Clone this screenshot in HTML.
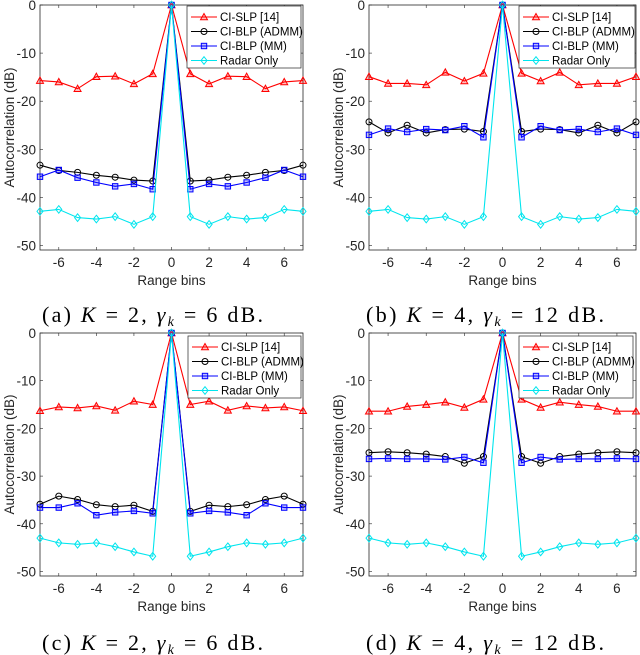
<!DOCTYPE html>
<html><head><meta charset="utf-8">
<style>
html,body{margin:0;padding:0;background:#fff;}
body{width:640px;height:655px;overflow:hidden;position:relative;}
svg{position:absolute;left:0;top:0;}
.tk{font-family:"Liberation Sans",sans-serif;font-size:13.5px;fill:#262626;}
.lg{font-family:"Liberation Sans",sans-serif;font-size:11.5px;fill:#000;}
.cap{font-family:"Liberation Serif",serif;font-size:22px;fill:#000;}
</style></head>
<body>
<svg id="chart" width="640" height="655" viewBox="0 0 640 655">
<text class="cap" x="42" y="322" textLength="221" lengthAdjust="spacing">(a) <tspan font-style="italic">K</tspan> = 2, <tspan font-style="italic">γ</tspan><tspan font-style="italic" font-size="14" dy="4">k</tspan><tspan dy="-4"> = 6 dB.</tspan></text>
<text class="cap" x="366" y="322" textLength="238" lengthAdjust="spacing">(b) <tspan font-style="italic">K</tspan> = 4, <tspan font-style="italic">γ</tspan><tspan font-style="italic" font-size="14" dy="4">k</tspan><tspan dy="-4"> = 12 dB.</tspan></text>
<text class="cap" x="42" y="650" textLength="221" lengthAdjust="spacing">(c) <tspan font-style="italic">K</tspan> = 2, <tspan font-style="italic">γ</tspan><tspan font-style="italic" font-size="14" dy="4">k</tspan><tspan dy="-4"> = 6 dB.</tspan></text>
<text class="cap" x="366" y="650" textLength="238" lengthAdjust="spacing">(d) <tspan font-style="italic">K</tspan> = 4, <tspan font-style="italic">γ</tspan><tspan font-style="italic" font-size="14" dy="4">k</tspan><tspan dy="-4"> = 12 dB.</tspan></text>
</svg>
<script>
const lags = [-7,-6,-5,-4,-3,-2,-1,0,1,2,3,4,5,6,7];
const xTicks = [-6,-4,-2,0,2,4,6];
const yTicks = [0,-10,-20,-30,-40,-50];
const seriesNames = ["CI-SLP [14]","CI-BLP (ADMM)","CI-BLP (MM)","Radar Only"];
function sym(h){return h.concat([0]).concat(h.slice().reverse());}
const redA = sym([-15.7,-16,-17.4,-14.9,-14.8,-16.4,-14.3]);
const blackA = sym([-33.3,-34.4,-34.8,-35.4,-35.8,-36.4,-36.6]);
const blueA = sym([-35.7,-34.3,-35.9,-36.9,-37.7,-37.2,-38.3]);
const cyanA = sym([-42.9,-42.5,-44.2,-44.5,-44,-45.6,-44]);
const redB = sym([-14.9,-16.3,-16.3,-16.6,-14,-15.8,-14.2]);
const blackB = sym([-24.3,-26.6,-25,-26.6,-25.9,-25.8,-26.3]);
const blueB = sym([-27,-25.7,-26.4,-25.8,-26,-25.2,-27.5]);
const cyanB = sym([-42.9,-42.5,-44.2,-44.5,-44,-45.6,-44]);
const redC = sym([-16.3,-15.5,-15.7,-15.3,-16.2,-14.3,-15.0]);
const blackC = sym([-35.9,-34.2,-34.9,-36,-36.4,-36.1,-37.4]);
const blueC = sym([-36.6,-36.6,-35.7,-38.2,-37.6,-37.3,-37.8]);
const cyanC = sym([-43,-44,-44.3,-44,-44.8,-45.9,-46.8]);
const redD = sym([-16.4,-16.4,-15.4,-15,-14.5,-15.6,-13.9]);
const blackD = sym([-25.1,-24.9,-25.1,-25.4,-25.9,-27.3,-25.9]);
const blueD = sym([-26.4,-26.3,-26.4,-26.4,-26.5,-26,-27.2]);
const cyanD = sym([-43,-44,-44.3,-44,-44.8,-45.9,-46.8]);

const NS="http://www.w3.org/2000/svg";
const svg=document.getElementById('chart');
function mk(tag,attrs,parent){const e=document.createElementNS(NS,tag);for(const k in attrs)e.setAttribute(k,attrs[k]);(parent||svg).appendChild(e);return e;}
const colors=["#ff0000","#000000","#0000ff","#00e5ee"];
const fills=["rgba(255,0,0,0.25)","none","rgba(0,0,255,0.25)","none"];
function marker(g,type,x,y,c,f){
  if(type===0) return mk('polygon',{points:`${x},${y-3.5} ${x-3.5},${y+2.8} ${x+3.5},${y+2.8}`,fill:f,stroke:c,'stroke-width':1},g);
  if(type===1) return mk('circle',{cx:x,cy:y,r:3,fill:f,stroke:c,'stroke-width':1},g);
  if(type===2) return mk('rect',{x:x-2.7,y:y-2.7,width:5.4,height:5.4,fill:f,stroke:c,'stroke-width':1},g);
  return mk('polygon',{points:`${x},${y-3.8} ${x+3},${y} ${x},${y+3.8} ${x-3},${y}`,fill:f,stroke:c,'stroke-width':1},g);
}
function panel(id,L,R,T,B,data,leg){
  const g=mk('g',{});
  
  
  const y0=T, y50=B-4.5;
  const xs=v=>L+(v+7)/14*(R-L);
  const ys=v=>y0+(-v)/50*(y50-y0);
  mk('rect',{x:L,y:T,width:R-L,height:B-T,fill:'#fff',stroke:'#262626','stroke-width':0.8},g);
  xTicks.forEach(t=>{const x=xs(t);
    mk('line',{x1:x,y1:B,x2:x,y2:B-3,stroke:'#262626','stroke-width':0.6},g);
    mk('line',{x1:x,y1:T,x2:x,y2:T+3,stroke:'#262626','stroke-width':0.6},g);
    const tx=mk('text',{x:x,y:B+17,'text-anchor':'middle',class:'tk'},g);tx.textContent=t;
    
    });
  yTicks.forEach(t=>{const y=ys(t);
    mk('line',{x1:L,y1:y,x2:L+3,y2:y,stroke:'#262626','stroke-width':0.6},g);
    mk('line',{x1:R,y1:y,x2:R-3,y2:y,stroke:'#262626','stroke-width':0.6},g);
    const tx=mk('text',{x:L-4,y:y+5,'text-anchor':'end',class:'tk'},g);tx.textContent=t;
    
    });
  const xl=mk('text',{x:(L+R)/2,y:B+35,'text-anchor':'middle',class:'tk','font-size':'14.5'},g);xl.textContent='Range bins';
  
  
  const yl=mk('text',{x:0,y:0,'text-anchor':'middle',class:'tk','font-size':'14.5',transform:`translate(${L-26},${(T+B)/2}) rotate(-90)`},g);yl.textContent='Autocorrelation (dB)';
  
  
  data.forEach((s,i)=>{
    const sg=mk('g',{},g);
    
    
    mk('polyline',{points:s.map((v,j)=>xs(lags[j])+','+ys(v)).join(' '),fill:'none',stroke:colors[i],'stroke-width':1.1},sg);
    s.forEach((v,j)=>{const m=marker(sg,i,xs(lags[j]),ys(v),colors[i],fills[i]);
      
      });
  });
  const lg=mk('g',{},g);
  
  
  mk('rect',{x:leg[0],y:leg[1],width:leg[2],height:62,fill:'#fff',stroke:'#262626','stroke-width':0.7},lg);
  seriesNames.forEach((n,i)=>{const y=leg[1]+11+i*14.5;
    mk('line',{x1:leg[0]+4,y1:y,x2:leg[0]+30,y2:y,stroke:colors[i],'stroke-width':1.1},lg);
    marker(lg,i,leg[0]+17,y,colors[i],fills[i]);
    const t=mk('text',{x:leg[0]+33,y:y+4,class:'lg'},lg);t.textContent=n;
    
    });
}
panel('a',40,303,5,250,[redA,blackA,blueA,cyanA],[187,6,114]);
panel('b',369,636,5,250,[redB,blackB,blueB,cyanB],[519,6,116]);
panel('c',40,303,333,576,[redC,blackC,blueC,cyanC],[188,336,113]);
panel('d',369,636,333,576,[redD,blackD,blueD,cyanD],[519,336,114]);
</script>
</body></html>
